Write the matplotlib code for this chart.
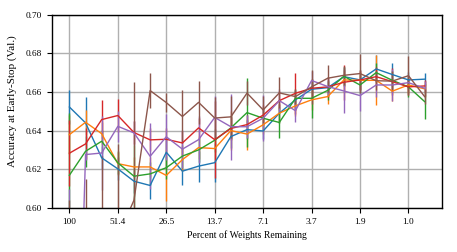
import numpy as np
import matplotlib
matplotlib.use("Agg")
from matplotlib import pyplot as plt

plt.rcParams['font.family'] = 'serif'
plt.rcParams['font.serif'] = ['Liberation Serif', 'DejaVu Serif']

tick_labels = ["100", "51.4", "26.5", "13.7", "7.1", "3.7", "1.9", "1.0"]

# mean accuracy per pruning round (23 rounds)
blue = [0.6522, 0.6440, 0.6259, 0.6202, 0.6138, 0.6116, 0.6288, 0.6190, 0.6216, 0.6234, 0.6369, 0.6405,
        0.6398, 0.6490, 0.6559, 0.6614, 0.6622, 0.6679, 0.6662, 0.6719, 0.6690, 0.6662, 0.6666]
orange = [0.6379, 0.6443, 0.6384, 0.6229, 0.6212, 0.6212, 0.6168, 0.6250, 0.6312, 0.6307, 0.6400, 0.6382,
          0.6430, 0.6490, 0.6528, 0.6559, 0.6576, 0.6662, 0.6660, 0.6660, 0.6604, 0.6636, 0.6616]
green = [0.6169, 0.6293, 0.6345, 0.6233, 0.6164, 0.6176, 0.6208, 0.6268, 0.6300, 0.6350, 0.6414, 0.6493,
         0.6464, 0.6442, 0.6567, 0.6567, 0.6608, 0.6681, 0.6636, 0.6700, 0.6660, 0.6626, 0.6550]
red = [0.6283, 0.6331, 0.6457, 0.6478, 0.6390, 0.6352, 0.6355, 0.6336, 0.6414, 0.6353, 0.6411, 0.6431,
       0.6480, 0.6555, 0.6593, 0.6619, 0.6626, 0.6650, 0.6662, 0.6679, 0.6653, 0.6626, 0.6631]
purple = [0.35, 0.6276, 0.6284, 0.6422, 0.6388, 0.6267, 0.6368, 0.6304, 0.6353, 0.6468, 0.6420, 0.6420,
          0.6464, 0.6555, 0.6503, 0.6659, 0.6628, 0.6605, 0.6581, 0.6636, 0.6636, 0.6648, 0.6619]
brown = [0.52, 0.54, 0.55, 0.585, 0.604, 0.6607, 0.6545, 0.6473, 0.6546, 0.6465, 0.6471, 0.6594,
         0.6507, 0.6595, 0.6576, 0.6626, 0.6671, 0.6686, 0.6695, 0.6658, 0.6656, 0.6684, 0.6576]

# std over runs
blue_err = [0.009, 0.0135, 0.006, 0.006, 0.006, 0.007, 0.008, 0.007, 0.008, 0.010, 0.006, 0.005,
            0.004, 0.005, 0.005, 0.005, 0.004, 0.005, 0.005, 0.007, 0.006, 0.004, 0.003]
orange_err = [0.010, 0.0066, 0.006, 0.006, 0.005, 0.005, 0.013, 0.006, 0.006, 0.006, 0.010, 0.008,
              0.005, 0.005, 0.005, 0.005, 0.004, 0.005, 0.005, 0.013, 0.005, 0.004, 0.004]
green_err = [0.032, 0.008, 0.006, 0.006, 0.016, 0.006, 0.006, 0.006, 0.006, 0.006, 0.006, 0.018,
             0.006, 0.008, 0.005, 0.010, 0.005, 0.005, 0.005, 0.005, 0.005, 0.005, 0.009]
red_err = [0.017, 0.008, 0.010, 0.0085, 0.006, 0.006, 0.006, 0.006, 0.005, 0.020, 0.006, 0.005,
           0.005, 0.005, 0.0105, 0.005, 0.005, 0.009, 0.005, 0.005, 0.007, 0.004, 0.003]
purple_err = [0.26, 0.003, 0.019, 0.008, 0.006, 0.017, 0.012, 0.010, 0.012, 0.011, 0.017, 0.006,
              0.012, 0.006, 0.006, 0.005, 0.005, 0.0115, 0.008, 0.006, 0.0085, 0.004, 0.004]
brown_err = [0.084, 0.075, 0.077, 0.048, 0.061, 0.0092, 0.005, 0.0135, 0.011, 0.011, 0.011, 0.006,
             0.007, 0.008, 0.004, 0.009, 0.007, 0.005, 0.010, 0.005, 0.005, 0.010, 0.004]

series = [
    (blue, blue_err, 'tab:blue'),
    (orange, orange_err, 'tab:orange'),
    (green, green_err, 'tab:green'),
    (red, red_err, 'tab:red'),
    (purple, purple_err, 'tab:purple'),
    (brown, brown_err, 'tab:brown'),
]

fig = plt.figure(figsize=(4.57, 2.52), dpi=100)
ax = fig.add_axes([0.113, 0.175, 0.855, 0.767])

x = np.arange(len(blue))
for vals, errs, c in series:
    ax.errorbar(x, vals, yerr=errs, color=c, lw=1.0, elinewidth=1.0)

ax.set_ylim(0.60, 0.70)
ax.set_yticks([0.60, 0.62, 0.64, 0.66, 0.68, 0.70])
ax.set_yticklabels(["0.60", "0.62", "0.64", "0.66", "0.68", "0.70"])
ax.set_xticks(np.arange(0, len(blue), 3))
ax.set_xticklabels(tick_labels)
ax.tick_params(labelsize=6.7, length=3.6, width=0.8, pad=3.5)
ax.grid(True, color='#b0b0b0', lw=1.0)
ax.set_axisbelow(True)
for s in ax.spines.values():
    s.set_linewidth(1.0)
ax.set_xlabel('Percent of Weights Remaining', fontsize=7, labelpad=3.5)
ax.set_ylabel('Accuracy at Early-Stop (Val.)', fontsize=8)
# label sits a bit above the axes centre in the original
ax.yaxis.set_label_coords(-0.088, 0.55)

fig.savefig('out.png', dpi=100)
